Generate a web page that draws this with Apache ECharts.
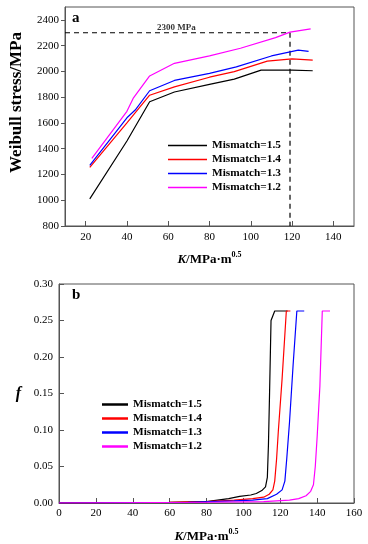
<!DOCTYPE html>
<html><head><meta charset="utf-8">
<script src="https://cdn.jsdelivr.net/npm/echarts@6/dist/echarts.min.js"></script>
<style>html,body{margin:0;padding:0;background:#fff}#c{width:368px;height:544px}</style>
</head><body><div id="c"></div>
<script>
// ---- Data ----
const names = ['Mismatch=1.5', 'Mismatch=1.4', 'Mismatch=1.3', 'Mismatch=1.2'];
const colors = ['#000000', '#ff0000', '#0000ff', '#ff00ff'];

// Panel a: Weibull stress vs K
const weibull15 = [[22,1010],[40,1460],[51,1765],[63,1840],[80,1900],[92,1940],[105,2010],[120,2010],[130,2005]];
const weibull14 = [[22,1255],[40,1600],[51,1815],[63,1880],[80,1955],[92,1998],[108,2080],[120,2097],[130,2088]];
const weibull13 = [[22,1270],[40,1640],[44,1700],[51,1850],[63,1930],[80,1985],[93,2035],[110,2120],[123,2165],[128,2155]];
const weibull12 = [[23,1325],[40,1690],[43,1790],[51,1965],[63,2063],[80,2120],[95,2180],[112,2262],[119,2305],[129,2330]];
const refK = 119;
const refStress = 2300;
const refLabel = '2300 MPa';
const refLabelK = 64;
const aXTicks = [20,40,60,80,100,120,140];
const aYTicks = [800,1000,1200,1400,1600,1800,2000,2200,2400];

// Panel b: f vs K
const f15 = [[0,0],[60,0.001],[80,0.002],[86,0.004],[92,0.006],[98,0.009],[104,0.011],[107,0.013],[110,0.017],[112,0.022],[113,0.035],[113.6,0.08],[114.2,0.15],[115,0.25],[117,0.263],[124,0.263]];
const f14 = [[0,0],[60,0.001],[80,0.002],[95,0.004],[105,0.006],[111,0.008],[114,0.012],[116,0.018],[117,0.03],[118,0.06],[119,0.1],[121,0.17],[123.3,0.263],[125.5,0.263]];
const f13 = [[0,0],[70,0.001],[95,0.003],[105,0.004],[113,0.006],[118,0.012],[121,0.018],[122.5,0.03],[123.5,0.06],[125,0.11],[127,0.19],[129,0.263],[133,0.263]];
const f12 = [[0,0],[80,0.001],[111,0.002],[125,0.004],[130,0.006],[134,0.01],[136.5,0.016],[138,0.025],[139,0.05],[140,0.09],[141.5,0.16],[142.8,0.263],[147,0.263]];

const FONT = '"Liberation Serif","Times New Roman",serif';
const AXC = '#555';

const chart = echarts.init(document.getElementById('c'), null, {renderer: 'canvas'});

function lineSeries(name, data, color, xi) {
  return {
    type: 'line', name: name, data: data, xAxisIndex: xi, yAxisIndex: xi,
    symbol: 'none', smooth: false, animation: false,
    lineStyle: {color: color, width: 1.2}, itemStyle: {color: color}
  };
}

const xName = '{k|K}{n|/MPa·m}{s|0.5}';
const xNameRich = {
  k: {fontFamily: FONT, fontStyle: 'italic', fontWeight: 'bold', fontSize: 13, color: '#000'},
  n: {fontFamily: FONT, fontWeight: 'bold', fontSize: 13, color: '#000'},
  s: {fontFamily: FONT, fontWeight: 'bold', fontSize: 8, color: '#000', padding: [0,0,9,0]}
};
const labelStyle = {fontFamily: FONT, fontSize: 11, color: '#000'};
const legendText = {fontFamily: FONT, fontWeight: 'bold', fontSize: 11.3, color: '#000', lineHeight: 13};

const option = {
  backgroundColor: '#fff',
  animation: false,
  grid: [
    {left: 59, top: 7, width: 295, height: 219, show: true, borderColor: AXC, borderWidth: 1},
    {left: 59, top: 284, width: 295, height: 219, show: true, borderColor: AXC, borderWidth: 1}
  ],
  xAxis: [
    {type: 'value', gridIndex: 0, min: 10, max: 150,
     axisLine: {show: true, lineStyle: {color: AXC}},
     axisTick: {show: true, inside: true, length: 5, customValues: aXTicks, lineStyle: {color: AXC}},
     axisLabel: Object.assign({customValues: aXTicks, margin: 6, formatter: v => String(v)}, labelStyle),
     splitLine: {show: false},
     name: xName, nameLocation: 'middle', nameGap: 25, nameTextStyle: {rich: xNameRich}},
    {type: 'value', gridIndex: 1, min: 0, max: 160, interval: 20,
     axisLine: {show: true, lineStyle: {color: AXC}},
     axisTick: {show: true, inside: true, length: 5, lineStyle: {color: AXC}},
     axisLabel: Object.assign({margin: 5, formatter: v => String(v)}, labelStyle),
     splitLine: {show: false},
     name: xName, nameLocation: 'middle', nameGap: 25, nameTextStyle: {rich: xNameRich}}
  ],
  yAxis: [
    {type: 'value', gridIndex: 0, min: 800, max: 2500,
     axisLine: {show: true, lineStyle: {color: AXC}},
     axisTick: {show: true, inside: false, length: 4, customValues: aYTicks, lineStyle: {color: AXC}},
     axisLabel: Object.assign({customValues: aYTicks, margin: 6, formatter: v => String(v)}, labelStyle),
     splitLine: {show: false},
     name: 'Weibull stress/MPa', nameLocation: 'middle', nameGap: 40,
     nameTextStyle: {fontFamily: FONT, fontWeight: 'bold', fontSize: 17, color: '#000', padding: [0,0,0,28]}},
    {type: 'value', gridIndex: 1, min: 0, max: 0.3, interval: 0.05,
     axisLine: {show: true, lineStyle: {color: AXC}},
     axisTick: {show: true, inside: true, length: 5, lineStyle: {color: AXC}},
     axisLabel: Object.assign({margin: 6, formatter: v => v.toFixed(2)}, labelStyle),
     splitLine: {show: false},
     name: 'f', nameLocation: 'middle', nameGap: 38, nameRotate: 0,
     nameTextStyle: {fontFamily: FONT, fontWeight: 'bold', fontStyle: 'italic', fontSize: 16, color: '#000', padding: [22,0,0,0]}}
  ],
  legend: [
    {id: 'legA', data: names, orient: 'vertical', left: 163, top: 134, itemWidth: 39, itemHeight: 1.3, itemGap: 1,
     icon: 'rect', textStyle: legendText, selectedMode: false},
    {id: 'legB', data: names, orient: 'vertical', left: 97, top: 393, itemWidth: 26, itemHeight: 2.5, itemGap: 1,
     icon: 'rect', textStyle: legendText, selectedMode: false}
  ],
  graphic: [
    {type: 'text', left: 72, top: 11, style: {text: 'a', font: 'bold 15px ' + FONT, fill: '#000'}},
    {type: 'text', left: 72, top: 288, style: {text: 'b', font: 'bold 15px ' + FONT, fill: '#000'}}
  ],
  series: [
    lineSeries(names[0], weibull15, colors[0], 0),
    lineSeries(names[1], weibull14, colors[1], 0),
    lineSeries(names[2], weibull13, colors[2], 0),
    lineSeries(names[3], weibull12, colors[3], 0),
    {type: 'line', name: 'ref', xAxisIndex: 0, yAxisIndex: 0, symbol: 'none',
     data: [[10, refStress], [refK, refStress], [refK, 800]],
     lineStyle: {color: '#000', width: 1.2, type: [5, 4]}, z: 1},
    {type: 'scatter', name: 'reflabel', xAxisIndex: 0, yAxisIndex: 0, symbolSize: 0,
     data: [[refLabelK, refStress]],
     label: {show: true, position: 'top', distance: 1, formatter: refLabel,
             fontFamily: FONT, fontWeight: 'bold', fontSize: 9, color: '#000'}},
    lineSeries(names[0], f15, colors[0], 1),
    lineSeries(names[1], f14, colors[1], 1),
    lineSeries(names[2], f13, colors[2], 1),
    lineSeries(names[3], f12, colors[3], 1)
  ]
};
chart.setOption(option);
</script>
</body></html>
